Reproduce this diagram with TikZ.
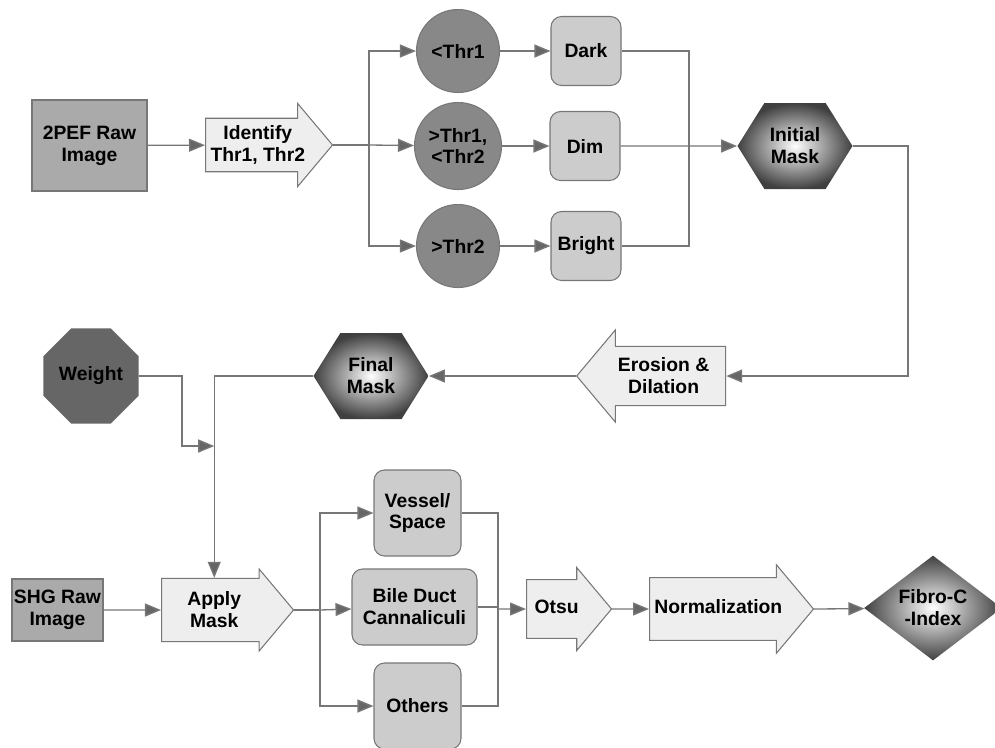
\documentclass[tikz,border=0pt]{standalone}
\usepackage{fontspec}
\setmainfont{Liberation Sans}
\setsansfont{Liberation Sans}
\usetikzlibrary{shapes.geometric, shapes.arrows, shapes.symbols, arrows.meta, positioning, calc}
\definecolor{linegray}{HTML}{777777}
\definecolor{tipgray}{HTML}{666666}
\definecolor{rawgray}{HTML}{AAAAAA}
\definecolor{stepgray}{HTML}{EEEEEE}
\definecolor{thrgray}{HTML}{888888}
\definecolor{classgray}{HTML}{CCCCCC}
\definecolor{weightgray}{HTML}{666666}
\tikzset{
    raw_box/.style={
        rectangle, draw=linegray, line width=0.7pt, fill=rawgray,
        align=center, inner sep=1pt
    },
    step_arrow/.style={
        single arrow, draw=linegray, line width=0.6pt, fill=stepgray,
        single arrow tip angle=100, align=center, inner xsep=1pt, inner ysep=1pt
    },
    step_arrow_one/.style={
        step_arrow, text height=8pt, text depth=2.5pt
    },
    thr_circle/.style={
        circle, draw=linegray, line width=0.6pt, fill=thrgray,
        minimum size=1.66cm, inner sep=0pt, align=center
    },
    class_box/.style={
        rectangle, rounded corners=6pt, draw=linegray, line width=0.6pt, fill=classgray,
        minimum width=1.4cm, minimum height=1.38cm, align=center, inner sep=1pt
    },
    mask_hex/.style={
        signal, signal to=east and west, signal pointer angle=116,
        shading=radial, inner color=white, outer color=black!75,
        minimum width=2.3cm, minimum height=1.72cm, align=center, inner sep=1pt
    },
    weight_oct/.style={
        regular polygon, regular polygon sides=8, fill=weightgray,
        minimum size=2.06cm, inner sep=0pt
    },
    index_diamond/.style={
        diamond, shading=radial, inner color=white, outer color=black!75,
        minimum width=2.76cm, minimum height=2.1cm, align=center, inner sep=0pt
    },
    flow_line/.style={
        draw=linegray, line width=0.75pt
    },
    flow_arrow/.style={
        flow_line, -{Triangle[length=0.32cm, width=0.26cm, fill=tipgray]}
    }
}

\begin{document}
\begin{tikzpicture}[font=\fontsize{11}{12.5}\selectfont\bfseries]
    \useasboundingbox (0,0) rectangle (19.9,-14.94);

    % --- 2PEF branch ---
    \node[raw_box, minimum width=2.3cm, minimum height=1.82cm] (raw2pef) at (1.79,-2.91) {2PEF Raw\\Image};
    \node[step_arrow, inner ysep=1.5pt, minimum height=2.54cm, minimum width=1.66cm, single arrow head extend=0.25cm, anchor=tail] (identify) at (4.10,-2.90) {Identify\\Thr1, Thr2};

    \node[thr_circle] (thrlow) at (9.16,-1.02) {<Thr1};
    \node[thr_circle, minimum size=1.74cm] (thrmid) at (9.16,-2.92) {>Thr1,\\<Thr2};
    \node[thr_circle] (thrhigh) at (9.16,-4.92) {>Thr2};

    \node[class_box] (dark) at (11.72,-1.02) {Dark};
    \node[class_box] (dim) at (11.70,-2.92) {Dim};
    \node[class_box] (bright) at (11.72,-4.92) {Bright};

    \node[mask_hex] (imask) at (15.9,-2.92) {Initial\\Mask};

    % --- mask clean-up ---
    \node[step_arrow, inner ysep=3.3pt, shape border rotate=180, minimum height=2.98cm, minimum width=1.84cm, single arrow head extend=0.27cm, anchor=tip] (erosion) at (11.52,-7.52) {Erosion \&\\Dilation};
    \node[mask_hex] (fmask) at (7.42,-7.52) {Final\\Mask};
    \node[weight_oct] (weight) at (1.82,-7.52) {Weight};

    % --- SHG branch ---
    \node[raw_box, minimum width=1.82cm, minimum height=1.24cm] (rawshg) at (1.15,-12.2) {SHG Raw\\Image};
    \node[step_arrow, inner ysep=3.9pt, minimum height=2.64cm, minimum width=1.64cm, single arrow head extend=0.15cm, anchor=tail] (apply) at (3.22,-12.2) {Apply\\Mask};

    \node[class_box, minimum width=1.74cm, minimum height=1.72cm] (vessel) at (8.35,-10.26) {Vessel/\\Space};
    \node[class_box, minimum width=2.5cm, minimum height=1.52cm] (bile) at (8.29,-12.14) {Bile Duct\\Cannaliculi};
    \node[class_box, minimum width=1.74cm, minimum height=1.72cm] (others) at (8.35,-14.12) {Others};

    \node[step_arrow_one, inner ysep=11.2pt, minimum height=1.7cm, minimum width=1.64cm, single arrow head extend=0.24cm, anchor=tail] (otsu) at (10.52,-12.18) {Otsu};
    \node[step_arrow_one, inner ysep=12.3pt, minimum height=3.28cm, minimum width=1.76cm, single arrow head extend=0.26cm, anchor=tail] (norm) at (12.98,-12.18) {Normalization};
    \node[index_diamond] (fibro) at (18.66,-12.16) {Fibro-C\\-Index};

    % --- junction points ---
    \coordinate (split) at (7.38,-2.90);
    \coordinate (merge) at (13.78,-2.92);
    \coordinate (wjoin) at (3.64,-8.92);
    \coordinate (fork) at (6.40,-12.2);
    \coordinate (join) at (9.96,-12.18);

    % --- Flow Arrows ---
    \draw[flow_arrow] (raw2pef) -- (identify);
    \draw[flow_line] (identify.tip) -- (split);
    \draw[flow_arrow] (split) |- (thrlow);
    \draw[flow_arrow] (split) -- (thrmid);
    \draw[flow_arrow] (split) |- (thrhigh);

    \draw[flow_arrow] (thrlow) -- (dark);
    \draw[flow_arrow] (thrmid) -- (dim);
    \draw[flow_arrow] (thrhigh) -- (bright);

    \draw[flow_line] (dark.east) -| (merge);
    \draw[flow_line] (bright.east) -| (merge);
    \draw[flow_arrow] (dim) -- (imask);

    \draw[flow_arrow] (imask.east) -| (18.16,-7.52) -- (erosion.tail);
    \draw[flow_arrow] (erosion.tip) -- (fmask.east);

    \draw[flow_arrow] (fmask.west) -| (apply.north);
    \draw[flow_arrow] (weight.east) -| (wjoin) -- (wjoin -| apply.north);

    \draw[flow_arrow] (rawshg) -- (apply);
    \draw[flow_line] (apply.tip) -- (fork);
    \draw[flow_arrow] (fork) |- (vessel);
    \draw[flow_arrow] (fork) -- (bile);
    \draw[flow_arrow] (fork) |- (others);

    \draw[flow_line] (vessel.east) -| (join);
    \draw[flow_line] (others.east) -| (join);
    \draw[flow_line] (bile.east) -- (bile.east -| join);
    \draw[flow_arrow] (join) -- (otsu);
    \draw[flow_arrow] (otsu.tip) -- (norm);
    \draw[flow_arrow] (norm.tip) -- (fibro);

\end{tikzpicture}
\end{document}
